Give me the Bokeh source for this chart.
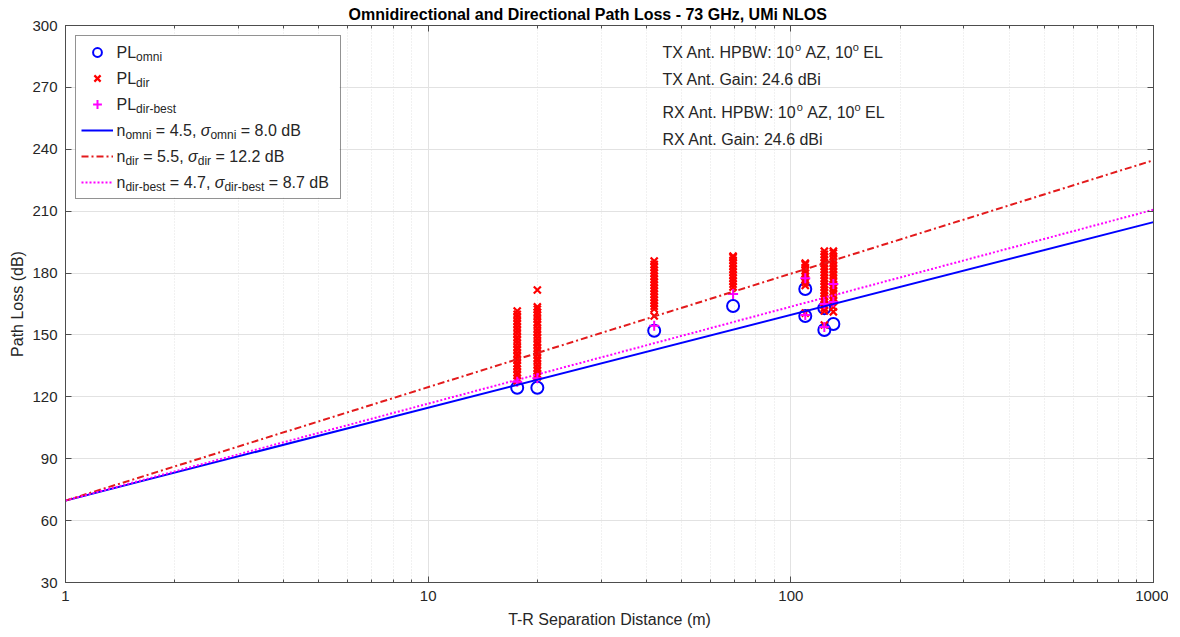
from bokeh.plotting import figure
from bokeh.models import (ColumnDataSource, Legend, LegendItem, Label, LogAxis,
                          LinearAxis, FixedTicker, CustomJSTickFormatter, BoxAnnotation)
from bokeh.embed import file_html
from bokeh.resources import INLINE

# ---------------- data ----------------
TITLE = "Omnidirectional and Directional Path Loss - 73 GHz, UMi NLOS"

omni_dist = [17.6, 20.0, 42.0, 69.3, 109.6, 109.6, 123.7, 123.7, 131.0]
omni_pl = [124.4, 124.4, 152.0, 164.0, 172.3, 159.2, 163.0, 152.4, 155.3]

dir_dist = [17.6, 20.0, 42.0, 69.3, 109.6, 109.6, 123.7, 123.7, 131.0]
dir_pl_18 = [127.7, 128.9, 130.4, 131.8, 133.5, 134.9, 136.2, 137.9, 139.6, 141.0, 142.7, 144.1,
             145.8, 147.4, 148.9, 150.6, 152.2, 153.7, 155.3, 156.8, 158.5, 160.0, 161.6]
dir_pl_20 = [129.7, 131.0, 132.6, 134.1, 135.7, 137.4, 138.8, 140.5, 142.0, 143.6, 145.3, 146.7,
             148.4, 150.0, 151.5, 153.1, 154.8, 156.2, 157.9, 159.5, 161.0, 162.4, 163.6, 171.8]
dir_pl_42 = [159.2, 162.6, 163.9, 165.4, 166.8, 168.3, 169.7, 171.2, 172.6, 174.1, 175.5, 177.0,
             178.4, 179.9, 181.3, 182.8, 184.2, 185.8]
dir_pl_69 = [173.2, 174.6, 176.0, 177.5, 178.9, 180.4, 181.8, 183.3, 184.7, 186.2, 187.5, 188.2]
dir_pl_110a = [174.0, 175.4, 176.9, 178.3, 179.8, 181.2, 182.7, 184.1, 184.8]
dir_pl_110b = [160.6]
dir_pl_124a = [161.6, 163.0, 164.5, 165.9, 167.4, 168.8, 170.3, 171.7, 173.2, 174.6, 176.1, 177.5,
               179.0, 180.4, 181.9, 183.3, 184.8, 186.2, 187.7, 189.1, 190.6]
dir_pl_124b = [154.8]
dir_pl_131 = [161.2, 163.6, 166.5, 168.0, 169.6, 171.1, 172.7, 174.2, 175.8, 177.3, 178.9, 180.4,
              182.0, 183.5, 185.1, 186.6, 188.2, 189.7, 190.6]
dir_pl = [dir_pl_18, dir_pl_20, dir_pl_42, dir_pl_69, dir_pl_110a, dir_pl_110b,
          dir_pl_124a, dir_pl_124b, dir_pl_131]

best_dist = [17.6, 20.0, 42.0, 69.3, 109.6, 109.6, 123.7, 123.7, 131.0, 131.0]
best_pl = [127.3, 129.0, 154.4, 169.8, 177.5, 159.7, 165.0, 153.9, 174.7, 166.0]

fit_dist = [1, 1000]
fit_omni = [69.7, 204.7]
fit_dir = [69.7, 234.7]
fit_best = [69.7, 210.7]

n_vals = [4.5, 5.5, 4.7]
sigma_vals = [8.0, 12.2, 8.7]
series_subs = ["omni", "dir", "dir-best"]

x_ticks = [1, 10, 100, 1000]
x_tick_labels = ["1", "10", "100", "1000"]
x_minor = [2, 3, 4, 5, 6, 7, 8, 9, 20, 30, 40, 50, 60, 70, 80, 90,
           200, 300, 400, 500, 600, 700, 800, 900]
y_ticks = [30, 60, 90, 120, 150, 180, 210, 240, 270, 300]

# ---------------- figure ----------------
FW, FH = 1088, 557
FONT = "Liberation Sans"
TXT = "#262626"
AX = "#4d4d4d"

p = figure(x_axis_type="log", x_range=(1, 1000), y_range=(30, 300),
           frame_width=FW, frame_height=FH, min_border_left=65, min_border_right=15,
           min_border_bottom=44, min_border_top=0, title=TITLE,
           output_backend="svg", toolbar_location=None, background_fill_color="white")

p.title.text_font = FONT
p.title.text_font_size = "16px"
p.title.text_font_style = "bold"
p.title.text_color = "black"
p.title.align = "left"
p.title.offset = 283
p.title.standoff = 6

p.outline_line_color = AX
p.outline_line_width = 1

xt = FixedTicker(ticks=x_ticks, minor_ticks=x_minor)
yt = FixedTicker(ticks=y_ticks)

for ax in p.xaxis:
    ax.ticker = xt
    ax.major_label_overrides = {t: l for t, l in zip(x_ticks, x_tick_labels)}
for ax in p.yaxis:
    ax.ticker = yt

def style_axis(ax):
    ax.axis_line_color = AX
    ax.major_tick_line_color = AX
    ax.minor_tick_line_color = AX
    ax.major_tick_in = 6
    ax.major_tick_out = 0
    ax.minor_tick_in = 3
    ax.minor_tick_out = 0
    ax.major_label_text_font = FONT
    ax.major_label_text_font_size = "15px"
    ax.major_label_text_color = TXT
    ax.axis_label_text_font = FONT
    ax.axis_label_text_font_size = "16px"
    ax.axis_label_text_font_style = "normal"
    ax.axis_label_text_color = TXT

for ax in p.xaxis + p.yaxis:
    style_axis(ax)
p.yaxis.minor_tick_line_color = None
p.xaxis.axis_label = "T-R Separation Distance (m)"
p.yaxis.axis_label = "Path Loss (dB)"
p.xaxis.major_label_standoff = 8
p.xaxis.axis_label_standoff = 7
p.yaxis.major_label_standoff = 8
p.yaxis.axis_label_standoff = 3

blank = CustomJSTickFormatter(code="return ''")
top = LogAxis(ticker=xt, formatter=blank, major_label_standoff=0)
right = LinearAxis(ticker=yt, formatter=blank, major_label_standoff=0)
style_axis(top)
style_axis(right)
right.minor_tick_line_color = None
p.add_layout(top, "above")
p.add_layout(right, "right")

p.xgrid.grid_line_color = "#e2e2e2"
p.xgrid.minor_grid_line_color = "#e2e2e2"
p.xgrid.minor_grid_line_dash = "1 2"
p.ygrid.grid_line_color = "#e2e2e2"

# ---------------- data glyphs ----------------
src_omni = ColumnDataSource(dict(x=omni_dist, y=omni_pl))
dx, dy = [], []
for d, vals in zip(dir_dist, dir_pl):
    dx += [d] * len(vals)
    dy += vals
src_dir = ColumnDataSource(dict(x=dx, y=dy))
src_best = ColumnDataSource(dict(x=best_dist, y=best_pl))

r_omni = p.scatter("x", "y", source=src_omni, marker="circle", size=12, fill_color=None,
                   line_color="#0000ff", line_width=2)
r_dir = p.scatter("x", "y", source=src_dir, marker="x", size=10, line_color="#ff0000",
                  line_width=2.2)
r_best = p.scatter("x", "y", source=src_best, marker="cross", size=10, line_color="#ff00ff",
                   line_width=2)

l_omni = p.line(fit_dist, fit_omni, line_color="#0000ff", line_width=2)
l_dir = p.line(fit_dist, fit_dir, line_color="#e31a1c", line_width=2, line_dash="7 3 2 3")
l_best = p.line(fit_dist, fit_best, line_color="#ff00ff", line_width=2, line_dash="2 2")

# legend: white box behind, transparent legend on top, rich text labels on top
LM, LPAD, GH, SP, GW, LSO, LW = 10, 5, 22, 4, 32, 4, 218
LEG_W = 2 * LPAD + GW + LSO + LW
LEG_H = 6 * GH + 5 * SP + 2 * LPAD
p.add_layout(BoxAnnotation(left=LM, right=LM + LEG_W, top=FH - LM, bottom=FH - LM - LEG_H,
                           left_units="screen", right_units="screen", top_units="screen",
                           bottom_units="screen", fill_color="white", fill_alpha=1,
                           line_color=None, level="annotation", propagate_hover=False))

legend = Legend(items=[LegendItem(label=" ", renderers=[r]) for r in
                       [r_omni, r_dir, r_best, l_omni, l_dir, l_best]],
                location="top_left", margin=LM, padding=LPAD, spacing=SP,
                glyph_height=GH, glyph_width=GW, label_height=GH, label_width=LW,
                label_standoff=LSO, label_text_font_size="12px",
                border_line_color=TXT, border_line_width=1,
                background_fill_alpha=0)
p.add_layout(legend)

# ---------------- rich text helper ----------------
W = {' ': 278, ',': 278, '-': 333, '.': 278, ':': 278, '=': 584, 'A': 667, 'B': 667,
     'E': 667, 'G': 778, 'H': 722, 'L': 556, 'P': 667, 'R': 722, 'T': 611, 'W': 944,
     'X': 667, 'Z': 611, 'a': 556, 'b': 556, 'd': 556, 'e': 556, 'i': 222, 'm': 833,
     'n': 556, 'o': 556, 'r': 333, 's': 500, 't': 278, 'σ': 600}
for c in "0123456789":
    W[c] = 556

def tw(s, size):
    return sum(W.get(c, 556) for c in s) * size / 1000.0

KINDS = {"n": (16, 0, "normal"), "it": (16, 0, "italic"), "sub": (12, -4.5, "normal"),
         "sup": (11, 6, "normal")}

def rich(x, ybase_from_top, pieces):
    for txt, kind in pieces:
        size, dyy, style = KINDS[kind]
        lead = len(txt) - len(txt.lstrip(" "))
        x += tw(txt[:lead], size)
        body = txt.strip(" ")
        p.add_layout(Label(x=x, y=FH - ybase_from_top + dyy, x_units="screen",
                           y_units="screen", text=body, text_font=FONT,
                           text_font_size=f"{size}px", text_font_style=style,
                           text_color=TXT, text_baseline="alphabetic", text_align="left",
                           level="overlay"))
        x += tw(txt[lead:], size)

# legend texts
LX = LM + LPAD + GW + LSO
row_base = [27, 53, 79, 105, 131, 157]
for i, sub in enumerate(series_subs):
    rich(LX, row_base[i], [("PL", "n"), (sub, "sub")])
for i, sub in enumerate(series_subs):
    rich(LX, row_base[3 + i], [("n", "n"), (sub, "sub"), (f" = {n_vals[i]:.1f}, ", "n"),
                               ("σ", "it"), (sub, "sub"), (f" = {sigma_vals[i]:.1f} dB", "n")])

# antenna annotation
AXX = 597
rich(AXX, 27, [("TX Ant. HPBW: 10", "n"), ("o", "sup"), (" AZ, 10", "n"), ("o", "sup"), (" EL", "n")])
rich(AXX, 54, [("TX Ant. Gain: 24.6 dBi", "n")])
rich(AXX, 87, [("RX Ant. HPBW: 10", "n"), ("o", "sup"), (" AZ, 10", "n"), ("o", "sup"), (" EL", "n")])
rich(AXX, 114, [("RX Ant. Gain: 24.6 dBi", "n")])

open("out.html", "w").write(file_html(p, INLINE))
